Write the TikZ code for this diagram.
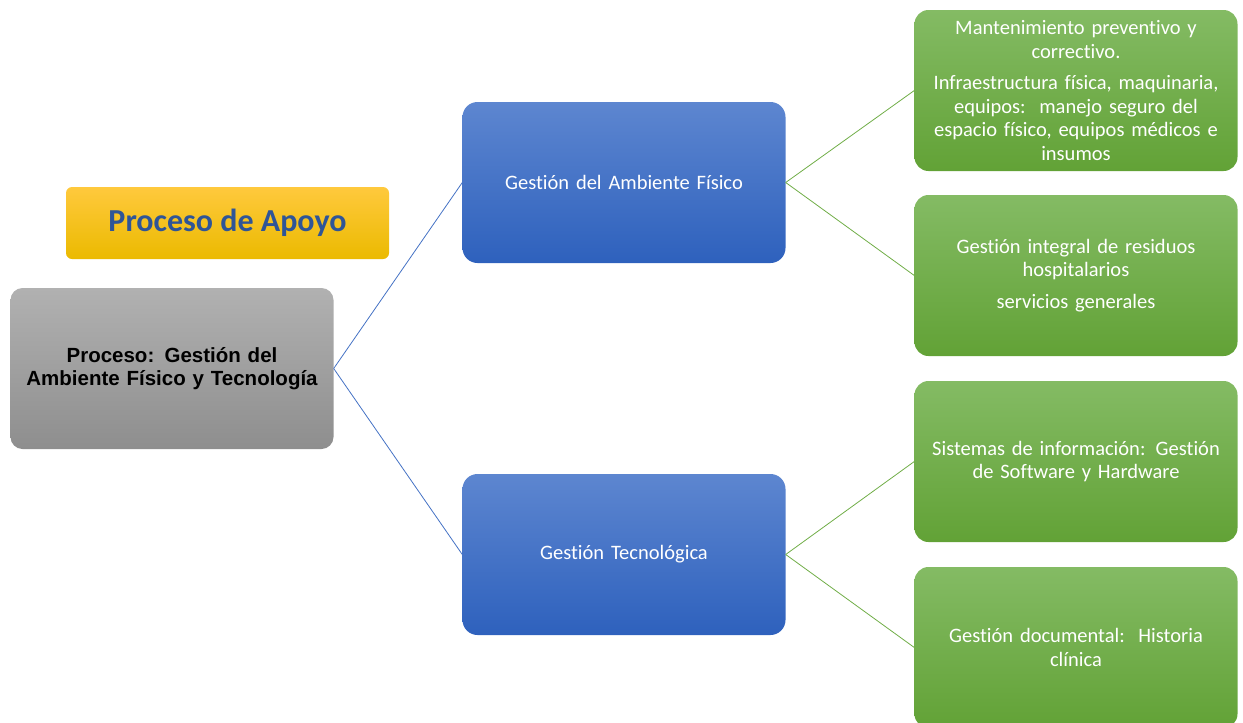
\documentclass[tikz,border=0pt]{standalone}
\usepackage{fontspec}
\setmainfont{Carlito}[Ligatures=NoCommon]
\newfontfamily\arialfont{Liberation Sans}
\usetikzlibrary{positioning,shapes,calc}

\definecolor{gristop}{HTML}{B1B1B1}
\definecolor{grisbot}{HTML}{8E8E8E}
\definecolor{azultop}{HTML}{5D86D0}
\definecolor{azulbot}{HTML}{2E61BD}
\definecolor{verdetop}{HTML}{84BB64}
\definecolor{verdebot}{HTML}{62A236}
\definecolor{amartop}{HTML}{FFC93D}
\definecolor{amarbot}{HTML}{EBBA00}
\definecolor{azullinea}{HTML}{4472C4}
\definecolor{verdelinea}{HTML}{70AD47}
\definecolor{azultexto}{HTML}{2F5597}

\tikzset{
    caja/.style={rounded corners=14pt,minimum width=323pt,minimum height=161pt,
        inner sep=3pt,align=center,text width=317pt,
        font=\fontsize{20.5}{23.5}\selectfont},
    cajagris/.style={caja,rounded corners=12pt,top color=gristop,bottom color=grisbot,
        font=\arialfont\bfseries\fontsize{20.5}{23}\selectfont},
    cajaazul/.style={caja,rounded corners=15pt,top color=azultop,bottom color=azulbot,text=white},
    cajaverde/.style={caja,top color=verdetop,bottom color=verdebot,text=white},
    lineaazul/.style={draw=azullinea,line width=0.8pt},
    lineaverde/.style={draw=verdelinea,line width=0.8pt}
}

\begin{document}
\begin{tikzpicture}[x=1pt,y=-1pt,node distance=452pt]
    \useasboundingbox (0,0) rectangle (1243,723);
    \begin{scope}
    \clip (0,0) rectangle (1243,723);
    \node [cajagris] (proceso) at (172,368.5) {Proceso: Gesti\'on del\\Ambiente F\'isico y Tecnolog\'ia};
    \node [rounded corners=6pt,minimum width=323pt,minimum height=72pt,
        top color=amartop,bottom color=amarbot,text=azultexto,
        font=\bfseries\fontsize{32}{36}\selectfont,
        above of = proceso,node distance=145.5pt,xshift=55.5pt] (apoyo) {Proceso de Apoyo};
    \node [cajaazul,right of = proceso,yshift=186pt] (fisico) {Gesti\'on del Ambiente F\'isico};
    \node [cajaazul,right of = proceso,yshift=-186pt] (tecno) {Gesti\'on Tecnol\'ogica};
    \node [cajaverde,right of = fisico,yshift=92pt] (mant) {Mantenimiento preventivo y\\correctivo.\\[8pt]
        Infraestructura f\'isica, maquinaria,\\equipos:\ \ manejo seguro del\\espacio f\'isico, equipos m\'edicos e\\insumos};
    \node [cajaverde,right of = fisico,yshift=-93pt] (residuos) {Gesti\'on integral de residuos\\hospitalarios\\[8pt]servicios generales};
    \node [cajaverde,right of = tecno,yshift=93pt] (sistemas) {Sistemas de informaci\'on: Gesti\'on\\de Software y Hardware};
    \node [cajaverde,right of = tecno,yshift=-93pt] (docu) {Gesti\'on documental:\ \ Historia\\cl\'inica};

    \path
        (proceso.east) edge[lineaazul] (fisico.west)
        (proceso.east) edge[lineaazul] (tecno.west)

        (fisico.east) edge[lineaverde] (mant.west)
        (fisico.east) edge[lineaverde] (residuos.west)
        (tecno.east) edge[lineaverde] (sistemas.west)
        (tecno.east) edge[lineaverde] (docu.west)
    ;
    \end{scope}
\end{tikzpicture}
\end{document}
